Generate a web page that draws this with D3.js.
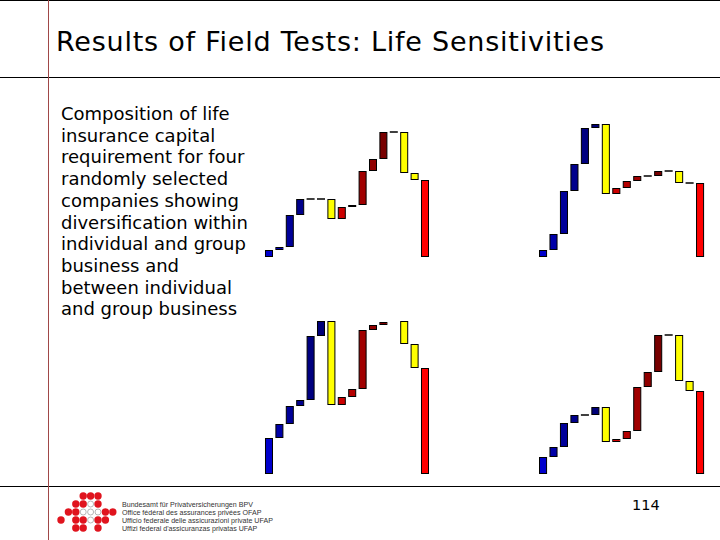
<!DOCTYPE html>
<html>
<head>
<meta charset="utf-8">
<script src="https://cdn.jsdelivr.net/npm/d3@7"></script>
<style>
  body { margin: 0; background: #fff; }
  svg { display: block; }
</style>
</head>
<body>
<script>
const width = 720;
const height = 540;

// waterfall steps: six individual risks, diversification, six group risks,
// diversification, diversification between, total
const steps = [
  "ind1", "ind2", "ind3", "ind4", "ind5", "ind6", "divInd",
  "grp1", "grp2", "grp3", "grp4", "grp5", "grp6", "divGrp",
  "divBetween", "total",
];

// increments (last value is the total)
const companyA = [7, 3, 32, 16, 0, 0, -20, 12, 2, 34, 12, 27, 0, -41, -7, 77];
const companyB = [7, 16, 43, 27, 36, 4, -70, 6, 7, 5, 0, 5, 0, -12, 0, 74];
const companyC = [36, 14, 18, 6, 64, 15, -84, 8, 8, 59, 5, 3, 1, -23, -24, 106];
const companyD = [17, 10, 24, 8, 0, 8, -35, 3, 8, 44, 15, 37, 0, -46, -10, 83];

const textLines = [
  "Composition of life",
  "insurance capital",
  "requirement for four",
  "randomly selected",
  "companies showing",
  "diversification within",
  "individual and group",
  "business and",
  "between individual",
  "and group business",
];

const logoLines = [
  "Bundesamt für Privatversicherungen BPV",
  "Office fédéral des assurances privées OFAP",
  "Ufficio federale delle assicurazioni private UFAP",
  "Uffizi federal d'assicuranzas privatas UFAP",
];

const stepColors = [
  "#0000cc", "#0000a8", "#000099", "#00008c", "#000080", "#000078", "#ffff00",
  "#cc0000", "#b40000", "#a00000", "#900000", "#780000", "#600000", "#ffff00",
  "#ffff00", "#ff0000",
];

const panels = [
  { values: companyA, x: [262.6, 431.4], base: 257 },
  { values: companyB, x: [536.6, 706.5], base: 257 },
  { values: companyC, x: [262.6, 431.4], base: 474 },
  { values: companyD, x: [536.6, 706.5], base: 474 },
];

const svg = d3
  .select("body")
  .append("svg")
  .attr("width", width)
  .attr("height", height);

// slide frame
svg.append("line").attr("x1", 0).attr("x2", width).attr("y1", 0.5).attr("y2", 0.5)
  .attr("stroke", "#000");
svg.append("line").attr("x1", 0).attr("x2", width).attr("y1", 77.5).attr("y2", 77.5)
  .attr("stroke", "#000");
svg.append("line").attr("x1", 0).attr("x2", width).attr("y1", 486.5).attr("y2", 486.5)
  .attr("stroke", "#000");
svg.append("line").attr("x1", 48.5).attr("x2", 48.5).attr("y1", 0).attr("y2", height)
  .attr("stroke", "#a04848");

svg
  .append("text")
  .attr("x", 56)
  .attr("y", 51)
  .attr("font-family", "DejaVu Sans")
  .attr("font-size", 27)
  .attr("textLength", 548)
  .attr("lengthAdjust", "spacing")
  .attr("fill", "#000")
  .text("Results of Field Tests: Life Sensitivities");

svg
  .append("g")
  .attr("font-family", "DejaVu Sans")
  .attr("font-size", 18)
  .attr("fill", "#000")
  .selectAll("text")
  .data(textLines)
  .join("text")
  .attr("x", 61)
  .attr("y", (d, i) => 120 + i * 21.7)
  .text((d) => d);

svg
  .append("text")
  .attr("x", 632)
  .attr("y", 510)
  .attr("font-family", "DejaVu Sans")
  .attr("font-size", 14.5)
  .text("114");

// waterfalls
for (const p of panels) {
  const x = d3.scaleBand().domain(steps).range(p.x).padding(0.23);
  const y = d3.scaleLinear().domain([0, 140]).range([p.base, p.base - 140]);

  let level = 0;
  const bars = p.values.map((v, i) => {
    const isTotal = i === p.values.length - 1;
    const start = isTotal ? 0 : level;
    const end = isTotal ? v : level + v;
    level = end;
    return { step: steps[i], start, end, color: stepColors[i] };
  });

  const g = svg.append("g");

  g.selectAll("rect")
    .data(bars.filter((d) => d.start !== d.end))
    .join("rect")
    .attr("x", (d) => x(d.step) + 0.5)
    .attr("width", x.bandwidth() - 1)
    .attr("y", (d) => y(Math.max(d.start, d.end)) + 0.5)
    .attr("height", (d) => Math.abs(y(d.start) - y(d.end)) - 1)
    .attr("fill", (d) => d.color)
    .attr("stroke", "#000")
    .attr("stroke-width", 1);

  g.selectAll("line")
    .data(bars.filter((d) => d.start === d.end))
    .join("line")
    .attr("x1", (d) => x(d.step))
    .attr("x2", (d) => x(d.step) + x.bandwidth())
    .attr("y1", (d) => y(d.start))
    .attr("y2", (d) => y(d.start))
    .attr("stroke", "#000")
    .attr("stroke-width", 1.5);
}

// logo: dotted cross
const logoDots = [
  [0, 3, 1], [0, 4, 1], [0, 5, 1],
  [1, 2, 1], [1, 3, 1], [1, 4, 0], [1, 5, 1],
  [2, 1, 1], [2, 2, 1], [2, 3, 0], [2, 4, 0], [2, 5, 0], [2, 6, 1], [2, 7, 1],
  [3, 0, 1], [3, 2, 1], [3, 3, 1], [3, 4, 0], [3, 5, 1], [3, 6, 1],
  [4, 2, 1], [4, 3, 1], [4, 5, 1],
];

svg
  .append("g")
  .selectAll("circle")
  .data(logoDots)
  .join("circle")
  .attr("cx", (d) => 61 + d[1] * 7.4)
  .attr("cy", (d) => 496 + d[0] * 8)
  .attr("r", (d) => (d[2] ? 3.7 : 3))
  .attr("fill", (d) => (d[2] ? "#e0141e" : "#fff"))
  .attr("stroke", (d) => (d[2] ? "none" : "#999"))
  .attr("stroke-width", 0.7);

svg
  .append("g")
  .attr("font-family", "Liberation Sans")
  .attr("font-size", 7.1)
  .attr("fill", "#333")
  .selectAll("text")
  .data(logoLines)
  .join("text")
  .attr("x", 122)
  .attr("y", (d, i) => 507 + i * 8)
  .text((d) => d);
</script>
</body>
</html>
